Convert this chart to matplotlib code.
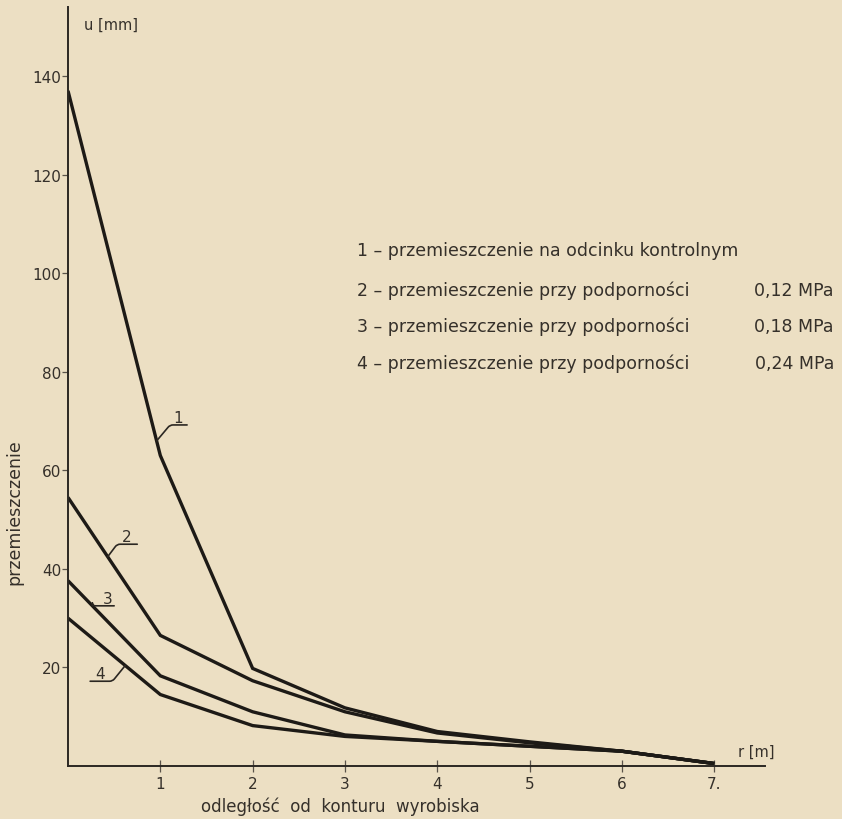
import numpy as np
import matplotlib
matplotlib.use("Agg")
import matplotlib.pyplot as plt

# ---- data ----
r = [0, 1, 2, 3, 4, 5, 6, 7]
u1 = [137, 63, 19.8, 11.8, 7.0, 4.9, 3.0, 0.5]
u2 = [54.5, 26.5, 17.3, 11.0, 6.7, 4.7, 3.0, 0.5]
u3 = [37.6, 18.3, 11.0, 6.3, 5.0, 4.0, 3.0, 0.5]
u4 = [30.0, 14.5, 8.2, 6.0, 5.0, 4.0, 3.0, 0.5]
series = [u1, u2, u3, u4]
curve_names = ["1", "2", "3", "4"]

xticks = [1, 2, 3, 4, 5, 6, 7]
xticklabels = ["1", "2", "3", "4", "5", "6", "7."]
yticks = [20, 40, 60, 80, 100, 120, 140]

legend_main = [
    "1 – przemieszczenie na odcinku kontrolnym",
    "2 – przemieszczenie przy podporności",
    "3 – przemieszczenie przy podporności",
    "4 – przemieszczenie przy podporności",
]
legend_values = ["", "0,12 MPa", "0,18 MPa", "0,24 MPa"]

BG = "#ECDFC3"
INK = "#1d1a16"
TXT = "#35302a"
plt.rcParams['font.family'] = ['DejaVu Sans']

fig = plt.figure(figsize=(8.42, 8.20), dpi=100, facecolor=BG)
ax = fig.add_axes([68/842, 1-767/820, (765-68)/842, (767-8)/820])
ax.set_facecolor(BG)

for s in series:
    ax.plot(r, s, color=INK, lw=2.4, solid_joinstyle='miter', solid_capstyle='butt')

ax.set_xlim(0, 7.55)
ax.set_ylim(0, 154)
for sp in ['top', 'right']:
    ax.spines[sp].set_visible(False)
for sp in ['left', 'bottom']:
    ax.spines[sp].set_color("#2b2722")
    ax.spines[sp].set_linewidth(1.4)

ax.set_xticks(xticks)
ax.set_xticklabels(xticklabels)
ax.set_yticks(yticks)
ax.tick_params(axis='x', direction='inout', length=8, width=0.9, colors="#5a534a",
               labelcolor=TXT, labelsize=11, pad=3)
ax.tick_params(axis='y', direction='out', length=4, width=0.9, colors="#5a534a",
               labelcolor=TXT, labelsize=11, pad=1)

# ---- curve labels with leader lines ----
lab_x = [1.19, 0.64, 0.43, 0.35]      # text centre (data)
lab_y = [69.8, 45.6, 33.1, 17.8]      # text baseline (data)
ul_x = [1.29, 0.75, 0.50, 0.24]       # free end of the underline
ul_y = [69.2, 45.0, 32.5, 17.2]
hit_x = [0.96, 0.43, 0.264, 0.62]     # where the leader meets its curve
angB = [50, 53, 90, 51]
for name, s, lx, ly, ux, uy, hx, aB in zip(curve_names, series, lab_x, lab_y,
                                           ul_x, ul_y, hit_x, angB):
    hy = np.interp(hx, r, s)
    ax.text(lx, ly, name, ha='center', va='baseline', fontsize=11, color=TXT)
    ax.annotate("", xy=(hx, hy), xytext=(ux, uy), textcoords='data',
                arrowprops=dict(arrowstyle='-', color="#2b2722", lw=1.2,
                                shrinkA=0, shrinkB=0,
                                connectionstyle=f"angle,angleA=0,angleB={aB},rad=3"))

# ---- legend text ----
leg_y = [251, 291, 327, 364]
for t, v, yy in zip(legend_main, legend_values, leg_y):
    fig.text(357/842, 1-yy/820, t, ha='left', va='center', fontsize=12.5, color=TXT)
    if v:
        fig.text(834/842, 1-yy/820, v, ha='right', va='center', fontsize=12.5, color=TXT)

# ---- axis texts ----
fig.text(84/842, 1-25/820, "u [mm]", ha='left', va='center', fontsize=10.5, color=TXT)
fig.text(738/842, 1-752/820, "r [m]", ha='left', va='center', fontsize=10.5, color=TXT)
fig.text(14/842, 1-512/820, "przemieszczenie", rotation=90, ha='center', va='center',
         fontsize=12.5, color=TXT)
fig.text(340/842, 1-807/820, "odległość  od  konturu  wyrobiska", ha='center', va='center',
         fontsize=12, color=TXT)

fig.savefig("out.png", dpi=100, facecolor=BG)
